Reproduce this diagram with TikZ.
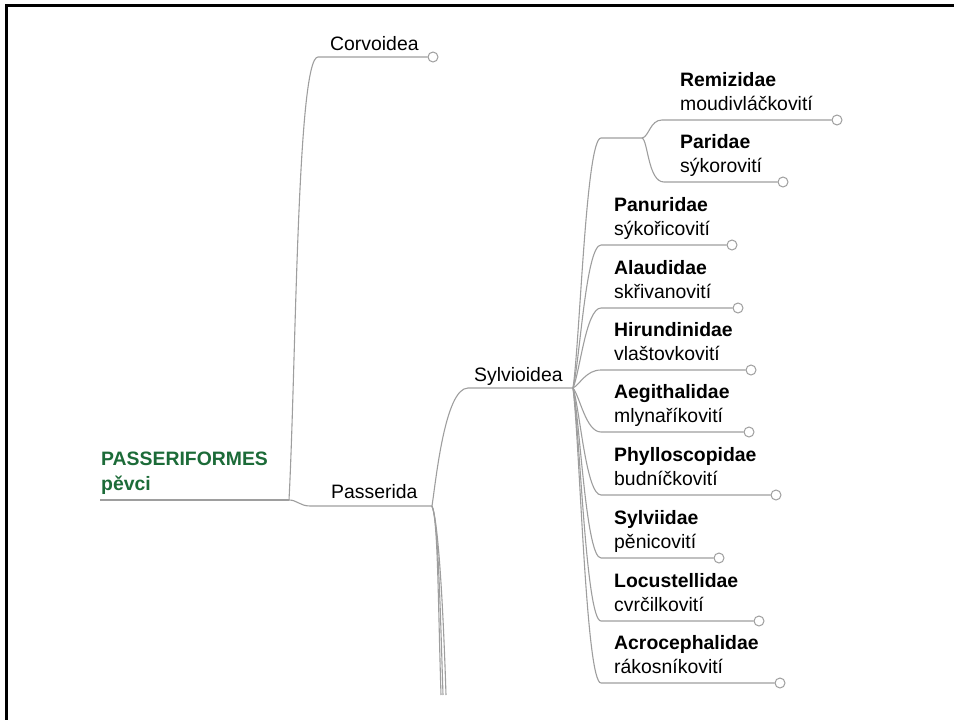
\documentclass[tikz,border=0pt]{standalone}
\usepackage{fontspec}
\setmainfont{Liberation Sans}
\definecolor{rootgreen}{RGB}{28,107,56}
\definecolor{linegray}{RGB}{158,158,158}
\tikzset{
    topic/.style={anchor=base west,inner sep=0pt,font=\fontsize{19.4}{23}\selectfont},
    family/.style={topic,font=\fontsize{19.4}{23}\selectfont\bfseries},
    branch/.style={draw=linegray,line width=1.1pt},
    knob/.style={circle,draw=linegray,fill=white,line width=1pt,inner sep=0pt,minimum size=10pt}
}

\begin{document}
\begin{tikzpicture}[x=1pt,y=-1pt]
    \useasboundingbox (0,0) rectangle (954,720);
    \draw[line width=3pt] (6,720) -- (6,5) -- (954,5);

    \node[family,text=rootgreen] (root) at (101,465) {PASSERIFORMES};
    \node[family,text=rootgreen] (root-cz) at (101,490) {pěvci};
    \coordinate (root-s) at (100,500);
    \coordinate (root-e) at (289,500);
    \draw[branch] (root-s) -- (root-e);

    \node[topic] (corv) at (330,50) {Corvoidea};
    \coordinate (corv-s) at (318,57);
    \node[knob] (corv-k) at (433,57) {};
    \draw[branch] (root-e) .. controls (296,367) and (297,57) .. (corv-s) -- (corv-k);

    \node[topic] (pass) at (331,498) {Passerida};
    \coordinate (pass-s) at (310,506);
    \coordinate (pass-e) at (432,506);
    \draw[branch] (root-e) .. controls (297,500) and (300,506) .. (pass-s) -- (pass-e);
    \foreach \i/\x in {1/441,2/443,3/446} {
        \coordinate (down\i) at (\x,695);
        \draw[branch] (pass-e) .. controls (438,520) and ({\x-3},600) .. (down\i);
    }

    \node[topic] (syl) at (474,381) {Sylvioidea};
    \coordinate (syl-s) at (468,388);
    \coordinate (syl-e) at (573,388);
    \draw[branch] (pass-e) .. controls (436,480) and (445,388) .. (syl-s) -- (syl-e);

    \coordinate (grp-s) at (601,138);
    \coordinate (grp-e) at (642,138);
    \draw[branch] (syl-e) .. controls (580,340) and (586,138) .. (grp-s) -- (grp-e);

    \node[family] (Remizidae) at (680,86) {Remizidae};
    \node[topic] (Remizidae-cz) at (680,110) {moudivláčkovití};
    \coordinate (Remizidae-s) at (662,120);
    \node[knob] (Remizidae-k) at (837,120) {};
    \draw[branch] (grp-e) .. controls (649,137) and (650,120) .. (Remizidae-s) -- (Remizidae-k);

    \node[family] (Paridae) at (680,148) {Paridae};
    \node[topic] (Paridae-cz) at (680,172) {sýkorovití};
    \coordinate (Paridae-s) at (664,182);
    \node[knob] (Paridae-k) at (783,182) {};
    \draw[branch] (grp-e) .. controls (648,140) and (648,182) .. (Paridae-s) -- (Paridae-k);

    \foreach \lat/\cz/\y/\kx in {Panuridae/sýkořicovití/245/732,
                                 Alaudidae/skřivanovití/308/738,
                                 Hirundinidae/vlaštovkovití/370/751,
                                 Aegithalidae/mlynaříkovití/432/749,
                                 Phylloscopidae/budníčkovití/495/776,
                                 Sylviidae/pěnicovití/558/719,
                                 Locustellidae/cvrčilkovití/621/759,
                                 Acrocephalidae/rákosníkovití/683/780} {
        \node[family] (\lat) at (614,\y-34) {\lat};
        \node[topic] (\lat-cz) at (614,\y-10) {\cz};
        \coordinate (\lat-s) at (601,\y);
        \node[knob] (\lat-k) at (\kx,\y) {};
        \draw[branch] (syl-e) .. controls (580,{388+0.2*(\y-388)}) and (586,\y) .. (\lat-s) -- (\lat-k);
    }
\end{tikzpicture}
\end{document}
